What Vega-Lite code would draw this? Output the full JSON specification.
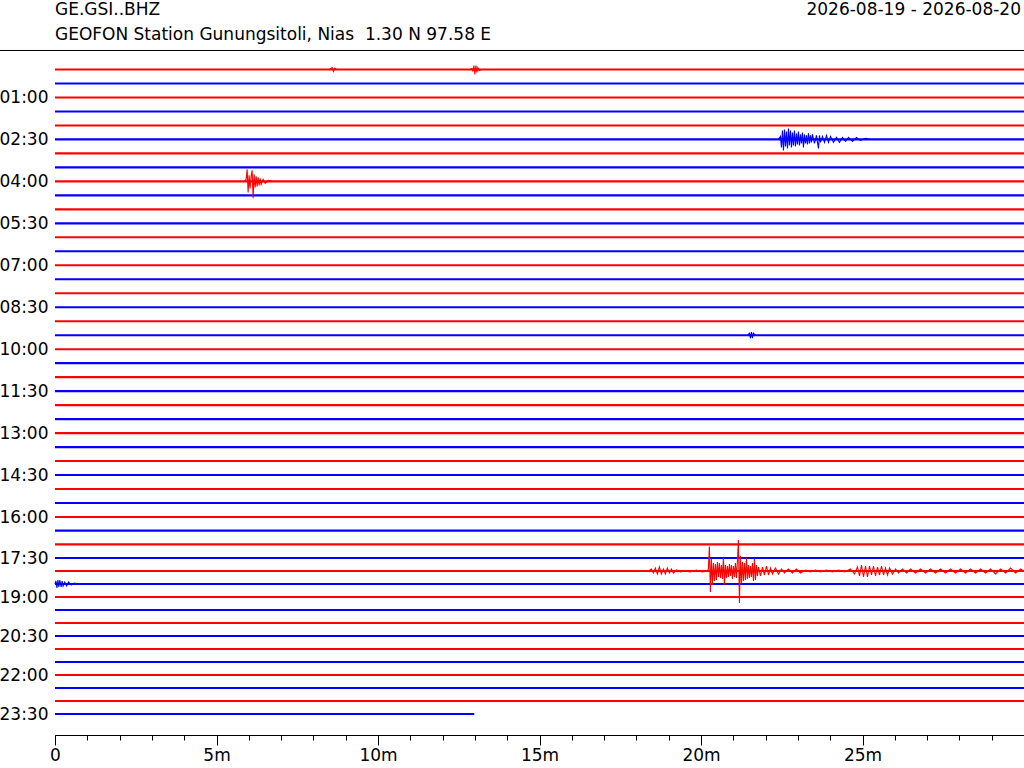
{
  "$schema": "https://vega.github.io/schema/vega-lite/v6.json",
  "description": "Helicorder (dayplot) of GE.GSI..BHZ, one trace per 30 minutes.",
  "width": 969,
  "height": 685,
  "autosize": {"type": "none"},
  "padding": {"left": 55, "top": 50, "right": 0, "bottom": 33},
  "config": {"view": {"stroke": null}, "font": "DejaVu Sans"},
  "resolve": {"axis": {"x": "independent", "y": "independent"}},
  "layer": [
    {
      "data": {
        "values": [
          {"r": 0, "end": 30}, {"r": 1, "end": 30}, {"r": 2, "end": 30}, {"r": 3, "end": 30},
          {"r": 4, "end": 30}, {"r": 5, "end": 30}, {"r": 6, "end": 30}, {"r": 7, "end": 30},
          {"r": 8, "end": 30}, {"r": 9, "end": 30}, {"r": 10, "end": 30}, {"r": 11, "end": 30},
          {"r": 12, "end": 30}, {"r": 13, "end": 30}, {"r": 14, "end": 30}, {"r": 15, "end": 30},
          {"r": 16, "end": 30}, {"r": 17, "end": 30}, {"r": 18, "end": 30}, {"r": 19, "end": 30},
          {"r": 20, "end": 30}, {"r": 21, "end": 30}, {"r": 22, "end": 30}, {"r": 23, "end": 30},
          {"r": 24, "end": 30}, {"r": 25, "end": 30}, {"r": 26, "end": 30}, {"r": 27, "end": 30},
          {"r": 28, "end": 30}, {"r": 29, "end": 30}, {"r": 30, "end": 30}, {"r": 31, "end": 30},
          {"r": 32, "end": 30}, {"r": 33, "end": 30}, {"r": 34, "end": 30}, {"r": 35, "end": 30},
          {"r": 36, "end": 30}, {"r": 37, "end": 30}, {"r": 38, "end": 30}, {"r": 39, "end": 30},
          {"r": 40, "end": 30}, {"r": 41, "end": 30}, {"r": 42, "end": 30}, {"r": 43, "end": 30},
          {"r": 44, "end": 30}, {"r": 45, "end": 30}, {"r": 46, "end": 30}, {"r": 47, "end": 12.98}
        ]
      },
      "transform": [
        {"calculate": "datum.r % 2 === 0 ? 'even' : 'odd'", "as": "p"},
        {"calculate": "0", "as": "start"}
      ],
      "mark": {"type": "rule", "strokeWidth": 2.1},
      "encoding": {
        "x": {
          "field": "start", "type": "quantitative",
          "scale": {"domain": [0, 30], "nice": false, "zero": false},
          "axis": {
            "orient": "bottom",
            "values": [0, 1, 2, 3, 4, 5, 6, 7, 8, 9, 10, 11, 12, 13, 14, 15, 16, 17, 18, 19, 20, 21, 22, 23, 24, 25, 26, 27, 28, 29],
            "labels": false,
            "tickSize": 5,
            "tickColor": "black",
            "domainColor": "black",
            "grid": false,
            "title": null
          }
        },
        "x2": {"field": "end"},
        "y": {
          "field": "r", "type": "quantitative",
          "scale": {"domain": [0, 32, 35, 47], "range": [19.5, 467, 508, 664], "nice": false, "zero": false},
          "axis": {
            "orient": "left",
            "values": [2, 5, 8, 11, 14, 17, 20, 23, 26, 29, 32, 35, 38, 41, 44, 47],
            "labelExpr": "(floor(datum.value / 2) < 10 ? '0' : '') + floor(datum.value / 2) + (datum.value % 2 ? ':30' : ':00')",
            "domain": false,
            "ticks": false,
            "grid": false,
            "labelFont": "DejaVu Sans",
            "labelFontSize": 17,
            "labelColor": "black",
            "labelPadding": 7,
            "title": null
          }
        },
        "color": {"field": "p", "type": "nominal", "scale": {"domain": ["even", "odd"], "range": ["#ff0000", "#0000ff"]}, "legend": null}
      }
    },
    {
      "data": {
        "values": [
          {"r": 0, "t": 8.5, "y": 0}, {"r": 0, "t": 8.58, "y": -0.14}, {"r": 0, "t": 8.62, "y": 0.14}, {"r": 0, "t": 8.66, "y": -0.1}, {"r": 0, "t": 8.72, "y": 0},
          {"r": 0, "t": 12.85, "y": 0}, {"r": 0, "t": 12.91, "y": -0.071}, {"r": 0, "t": 12.94, "y": 0.143}, {"r": 0, "t": 12.97, "y": -0.286},
          {"r": 0, "t": 13.0, "y": 0.357}, {"r": 0, "t": 13.03, "y": -0.286}, {"r": 0, "t": 13.06, "y": 0.214}, {"r": 0, "t": 13.09, "y": -0.143},
          {"r": 0, "t": 13.13, "y": 0.071}, {"r": 0, "t": 13.2, "y": 0},

          {"r": 5, "t": 22.398, "y": 5}, {"r": 5, "t": 22.46, "y": 4.786}, {"r": 5, "t": 22.491, "y": 5.571}, {"r": 5, "t": 22.522, "y": 4.357},
          {"r": 5, "t": 22.553, "y": 5.786}, {"r": 5, "t": 22.584, "y": 4.286}, {"r": 5, "t": 22.615, "y": 5.5}, {"r": 5, "t": 22.646, "y": 4.429},
          {"r": 5, "t": 22.677, "y": 5.643}, {"r": 5, "t": 22.708, "y": 4.214}, {"r": 5, "t": 22.739, "y": 5.429}, {"r": 5, "t": 22.77, "y": 4.357},
          {"r": 5, "t": 22.801, "y": 5.571}, {"r": 5, "t": 22.831, "y": 4.5}, {"r": 5, "t": 22.862, "y": 5.429}, {"r": 5, "t": 22.893, "y": 4.357},
          {"r": 5, "t": 22.924, "y": 5.5}, {"r": 5, "t": 22.955, "y": 4.571}, {"r": 5, "t": 22.986, "y": 5.357}, {"r": 5, "t": 23.017, "y": 4.429},
          {"r": 5, "t": 23.048, "y": 5.429}, {"r": 5, "t": 23.079, "y": 4.643}, {"r": 5, "t": 23.11, "y": 5.286}, {"r": 5, "t": 23.141, "y": 4.5},
          {"r": 5, "t": 23.172, "y": 5.571}, {"r": 5, "t": 23.203, "y": 4.643}, {"r": 5, "t": 23.234, "y": 5.286}, {"r": 5, "t": 23.265, "y": 4.714},
          {"r": 5, "t": 23.296, "y": 5.357}, {"r": 5, "t": 23.327, "y": 4.571}, {"r": 5, "t": 23.358, "y": 5.286}, {"r": 5, "t": 23.389, "y": 4.714},
          {"r": 5, "t": 23.42, "y": 5.214}, {"r": 5, "t": 23.451, "y": 4.643}, {"r": 5, "t": 23.513, "y": 5.286}, {"r": 5, "t": 23.575, "y": 4.714},
          {"r": 5, "t": 23.606, "y": 5.214}, {"r": 5, "t": 23.637, "y": 5.643}, {"r": 5, "t": 23.668, "y": 4.714}, {"r": 5, "t": 23.699, "y": 5.214},
          {"r": 5, "t": 23.761, "y": 4.786}, {"r": 5, "t": 23.823, "y": 5.214}, {"r": 5, "t": 23.885, "y": 4.714}, {"r": 5, "t": 23.947, "y": 5.214},
          {"r": 5, "t": 24.009, "y": 4.786}, {"r": 5, "t": 24.102, "y": 5.214}, {"r": 5, "t": 24.195, "y": 4.857}, {"r": 5, "t": 24.287, "y": 5.214},
          {"r": 5, "t": 24.38, "y": 4.857}, {"r": 5, "t": 24.473, "y": 5.143}, {"r": 5, "t": 24.566, "y": 4.857}, {"r": 5, "t": 24.69, "y": 5.143},
          {"r": 5, "t": 24.814, "y": 4.857}, {"r": 5, "t": 24.938, "y": 5.071}, {"r": 5, "t": 25.093, "y": 4.929}, {"r": 5, "t": 25.248, "y": 5},

          {"r": 8, "t": 5.855, "y": 8}, {"r": 8, "t": 5.917, "y": 7.857}, {"r": 8, "t": 5.948, "y": 7.143}, {"r": 8, "t": 5.979, "y": 8.786},
          {"r": 8, "t": 6.01, "y": 7.571}, {"r": 8, "t": 6.041, "y": 8.5}, {"r": 8, "t": 6.072, "y": 7.643}, {"r": 8, "t": 6.103, "y": 7.214},
          {"r": 8, "t": 6.134, "y": 9.214}, {"r": 8, "t": 6.165, "y": 7.5}, {"r": 8, "t": 6.196, "y": 8.429}, {"r": 8, "t": 6.227, "y": 7.643},
          {"r": 8, "t": 6.258, "y": 8.357}, {"r": 8, "t": 6.289, "y": 7.714}, {"r": 8, "t": 6.32, "y": 8.286}, {"r": 8, "t": 6.351, "y": 7.786},
          {"r": 8, "t": 6.382, "y": 8.214}, {"r": 8, "t": 6.444, "y": 7.857}, {"r": 8, "t": 6.506, "y": 8.143}, {"r": 8, "t": 6.598, "y": 7.929},
          {"r": 8, "t": 6.722, "y": 8},

          {"r": 19, "t": 21.45, "y": 19}, {"r": 19, "t": 21.5, "y": 18.857}, {"r": 19, "t": 21.53, "y": 19.214}, {"r": 19, "t": 21.56, "y": 18.786},
          {"r": 19, "t": 21.59, "y": 19.214}, {"r": 19, "t": 21.62, "y": 18.857}, {"r": 19, "t": 21.68, "y": 19},

          {"r": 36, "t": 18.3, "y": 36}, {"r": 36, "t": 18.371, "y": 36}, {"r": 36, "t": 18.464, "y": 35.846}, {"r": 36, "t": 18.526, "y": 36.154},
          {"r": 36, "t": 18.587, "y": 35.769}, {"r": 36, "t": 18.649, "y": 36.231}, {"r": 36, "t": 18.711, "y": 35.692}, {"r": 36, "t": 18.773, "y": 36.231},
          {"r": 36, "t": 18.835, "y": 35.846}, {"r": 36, "t": 18.897, "y": 36.231}, {"r": 36, "t": 18.959, "y": 35.769}, {"r": 36, "t": 19.021, "y": 36.154},
          {"r": 36, "t": 19.083, "y": 35.846}, {"r": 36, "t": 19.145, "y": 36.154}, {"r": 36, "t": 19.238, "y": 35.923}, {"r": 36, "t": 19.362, "y": 36.077},
          {"r": 36, "t": 19.486, "y": 36}, {"r": 36, "t": 19.672, "y": 36.077}, {"r": 36, "t": 19.857, "y": 35.923}, {"r": 36, "t": 20.043, "y": 36.077},
          {"r": 36, "t": 20.198, "y": 36}, {"r": 36, "t": 20.229, "y": 35.846}, {"r": 36, "t": 20.26, "y": 34.154}, {"r": 36, "t": 20.291, "y": 37.615},
          {"r": 36, "t": 20.322, "y": 35.077}, {"r": 36, "t": 20.353, "y": 37.077}, {"r": 36, "t": 20.384, "y": 35.385}, {"r": 36, "t": 20.415, "y": 36.769},
          {"r": 36, "t": 20.446, "y": 35.462}, {"r": 36, "t": 20.477, "y": 36.692}, {"r": 36, "t": 20.508, "y": 35.308}, {"r": 36, "t": 20.539, "y": 36.462},
          {"r": 36, "t": 20.57, "y": 35.385}, {"r": 36, "t": 20.601, "y": 36.538}, {"r": 36, "t": 20.632, "y": 35.538}, {"r": 36, "t": 20.663, "y": 36.615},
          {"r": 36, "t": 20.694, "y": 35.0}, {"r": 36, "t": 20.725, "y": 37.077}, {"r": 36, "t": 20.756, "y": 35.538}, {"r": 36, "t": 20.787, "y": 36.538},
          {"r": 36, "t": 20.818, "y": 35.615}, {"r": 36, "t": 20.849, "y": 36.462}, {"r": 36, "t": 20.88, "y": 35.462}, {"r": 36, "t": 20.911, "y": 36.385},
          {"r": 36, "t": 20.942, "y": 35.538}, {"r": 36, "t": 20.973, "y": 36.615}, {"r": 36, "t": 21.004, "y": 35.615}, {"r": 36, "t": 21.035, "y": 36.462},
          {"r": 36, "t": 21.066, "y": 35.385}, {"r": 36, "t": 21.097, "y": 36.538}, {"r": 36, "t": 21.128, "y": 35.231}, {"r": 36, "t": 21.159, "y": 33.692},
          {"r": 36, "t": 21.19, "y": 38.462}, {"r": 36, "t": 21.221, "y": 34.846}, {"r": 36, "t": 21.252, "y": 36.923}, {"r": 36, "t": 21.283, "y": 35.308},
          {"r": 36, "t": 21.314, "y": 36.769}, {"r": 36, "t": 21.345, "y": 35.385}, {"r": 36, "t": 21.376, "y": 36.692}, {"r": 36, "t": 21.407, "y": 35.0},
          {"r": 36, "t": 21.438, "y": 36.615}, {"r": 36, "t": 21.469, "y": 35.538}, {"r": 36, "t": 21.5, "y": 36.538}, {"r": 36, "t": 21.531, "y": 35.615},
          {"r": 36, "t": 21.562, "y": 36.462}, {"r": 36, "t": 21.593, "y": 35.385}, {"r": 36, "t": 21.624, "y": 36.769}, {"r": 36, "t": 21.655, "y": 35.077},
          {"r": 36, "t": 21.686, "y": 36.692}, {"r": 36, "t": 21.717, "y": 35.538}, {"r": 36, "t": 21.748, "y": 36.385}, {"r": 36, "t": 21.779, "y": 35.692},
          {"r": 36, "t": 21.841, "y": 36.385}, {"r": 36, "t": 21.903, "y": 35.692}, {"r": 36, "t": 21.965, "y": 36.308}, {"r": 36, "t": 22.027, "y": 35.615},
          {"r": 36, "t": 22.089, "y": 36.308}, {"r": 36, "t": 22.151, "y": 35.769}, {"r": 36, "t": 22.213, "y": 36.231}, {"r": 36, "t": 22.305, "y": 35.769},
          {"r": 36, "t": 22.398, "y": 36.231}, {"r": 36, "t": 22.491, "y": 35.846}, {"r": 36, "t": 22.584, "y": 36.154}, {"r": 36, "t": 22.708, "y": 35.846},
          {"r": 36, "t": 22.831, "y": 36.154}, {"r": 36, "t": 22.955, "y": 35.846}, {"r": 36, "t": 23.079, "y": 36.154}, {"r": 36, "t": 23.234, "y": 35.923},
          {"r": 36, "t": 23.389, "y": 36.077}, {"r": 36, "t": 23.544, "y": 35.923}, {"r": 36, "t": 23.699, "y": 36.077}, {"r": 36, "t": 23.885, "y": 35.923},
          {"r": 36, "t": 24.071, "y": 36.077}, {"r": 36, "t": 24.257, "y": 35.923}, {"r": 36, "t": 24.442, "y": 36.077}, {"r": 36, "t": 24.628, "y": 35.846},
          {"r": 36, "t": 24.752, "y": 36.231}, {"r": 36, "t": 24.845, "y": 35.692}, {"r": 36, "t": 24.907, "y": 36.385}, {"r": 36, "t": 24.969, "y": 35.538},
          {"r": 36, "t": 25.031, "y": 36.462}, {"r": 36, "t": 25.093, "y": 35.615}, {"r": 36, "t": 25.155, "y": 36.462}, {"r": 36, "t": 25.217, "y": 35.615},
          {"r": 36, "t": 25.279, "y": 36.308}, {"r": 36, "t": 25.341, "y": 35.615}, {"r": 36, "t": 25.403, "y": 36.385}, {"r": 36, "t": 25.465, "y": 35.692},
          {"r": 36, "t": 25.527, "y": 36.308}, {"r": 36, "t": 25.589, "y": 35.615}, {"r": 36, "t": 25.651, "y": 36.308}, {"r": 36, "t": 25.713, "y": 35.769},
          {"r": 36, "t": 25.775, "y": 36.308}, {"r": 36, "t": 25.837, "y": 35.769}, {"r": 36, "t": 25.929, "y": 36.231}, {"r": 36, "t": 26.022, "y": 35.846},
          {"r": 36, "t": 26.115, "y": 36.154}, {"r": 36, "t": 26.239, "y": 35.846}, {"r": 36, "t": 26.363, "y": 36.154}, {"r": 36, "t": 26.487, "y": 35.846},
          {"r": 36, "t": 26.642, "y": 36.154}, {"r": 36, "t": 26.797, "y": 35.846}, {"r": 36, "t": 26.952, "y": 36.154}, {"r": 36, "t": 27.107, "y": 35.846},
          {"r": 36, "t": 27.262, "y": 36.154}, {"r": 36, "t": 27.416, "y": 35.846}, {"r": 36, "t": 27.571, "y": 36.154}, {"r": 36, "t": 27.726, "y": 35.846},
          {"r": 36, "t": 27.881, "y": 36.154}, {"r": 36, "t": 28.036, "y": 35.846}, {"r": 36, "t": 28.191, "y": 36.154}, {"r": 36, "t": 28.346, "y": 35.846},
          {"r": 36, "t": 28.501, "y": 36.154}, {"r": 36, "t": 28.656, "y": 35.846}, {"r": 36, "t": 28.811, "y": 36.154}, {"r": 36, "t": 28.965, "y": 35.846},
          {"r": 36, "t": 29.12, "y": 36.231}, {"r": 36, "t": 29.275, "y": 35.846}, {"r": 36, "t": 29.43, "y": 36.154}, {"r": 36, "t": 29.585, "y": 35.769},
          {"r": 36, "t": 29.74, "y": 36.154}, {"r": 36, "t": 29.895, "y": 35.846}, {"r": 36, "t": 29.988, "y": 36},

          {"r": 37, "t": 0, "y": 37}, {"r": 37, "t": 0.03, "y": 36.769}, {"r": 37, "t": 0.06, "y": 37.308}, {"r": 37, "t": 0.09, "y": 36.692},
          {"r": 37, "t": 0.12, "y": 37.231}, {"r": 37, "t": 0.15, "y": 36.692}, {"r": 37, "t": 0.19, "y": 37.231}, {"r": 37, "t": 0.22, "y": 36.769},
          {"r": 37, "t": 0.25, "y": 37.154}, {"r": 37, "t": 0.3, "y": 36.846}, {"r": 37, "t": 0.36, "y": 37.154}, {"r": 37, "t": 0.42, "y": 36.846},
          {"r": 37, "t": 0.5, "y": 37.077}, {"r": 37, "t": 0.6, "y": 36.923}, {"r": 37, "t": 0.7, "y": 37}
        ]
      },
      "transform": [{"calculate": "datum.r % 2 === 0 ? 'even' : 'odd'", "as": "p"}],
      "mark": {"type": "line", "strokeWidth": 1.1},
      "encoding": {
        "x": {
          "field": "t", "type": "quantitative",
          "scale": {"domain": [0, 30], "nice": false, "zero": false},
          "axis": {
            "orient": "bottom",
            "values": [0, 5, 10, 15, 20, 25],
            "labelExpr": "datum.value === 0 ? '0' : datum.value + 'm'",
            "tickSize": 10,
            "tickColor": "black",
            "domain": false,
            "labelFont": "DejaVu Sans",
            "labelFontSize": 17,
            "labelColor": "black",
            "labelPadding": 2,
            "labelFlush": false,
            "labelOverlap": false,
            "grid": false,
            "title": null
          }
        },
        "y": {"field": "y", "type": "quantitative", "scale": {"domain": [0, 32, 35, 47], "range": [19.5, 467, 508, 664], "nice": false, "zero": false}, "axis": null},
        "detail": {"field": "r", "type": "nominal"},
        "order": {"field": "t", "type": "quantitative"},
        "color": {"field": "p", "type": "nominal", "scale": {"domain": ["even", "odd"], "range": ["#ff0000", "#0000ff"]}, "legend": null}
      }
    },
    {
      "data": {"values": [{"a": -1.75, "b": 30, "top": -1.36}]},
      "mark": {"type": "rule", "color": "black", "strokeWidth": 1},
      "encoding": {
        "x": {"field": "a", "type": "quantitative", "scale": {"domain": [0, 30], "nice": false, "zero": false}, "axis": null},
        "x2": {"field": "b"},
        "y": {"field": "top", "type": "quantitative", "scale": {"domain": [0, 32, 35, 47], "range": [19.5, 467, 508, 664], "nice": false, "zero": false}, "axis": null}
      }
    },
    {
      "data": {"values": [{"label": "GE.GSI..BHZ"}]},
      "mark": {"type": "text", "align": "left", "baseline": "middle", "font": "DejaVu Sans", "fontSize": 17, "color": "black"},
      "encoding": {
        "x": {"datum": 0, "type": "quantitative", "scale": {"domain": [0, 30], "nice": false, "zero": false}, "axis": null},
        "y": {"datum": -4.22, "type": "quantitative", "scale": {"domain": [0, 32, 35, 47], "range": [19.5, 467, 508, 664], "nice": false, "zero": false}, "axis": null},
        "text": {"field": "label", "type": "nominal"}
      }
    },
    {
      "data": {"values": [{"label": "GEOFON Station Gunungsitoli, Nias \u00a01.30 N 97.58 E"}]},
      "mark": {"type": "text", "align": "left", "baseline": "middle", "font": "DejaVu Sans", "fontSize": 17, "color": "black"},
      "encoding": {
        "x": {"datum": 0, "type": "quantitative", "scale": {"domain": [0, 30], "nice": false, "zero": false}, "axis": null},
        "y": {"datum": -2.45, "type": "quantitative", "scale": {"domain": [0, 32, 35, 47], "range": [19.5, 467, 508, 664], "nice": false, "zero": false}, "axis": null},
        "text": {"field": "label", "type": "nominal"}
      }
    },
    {
      "data": {"values": [{"label": "2026-08-19 - 2026-08-20"}]},
      "mark": {"type": "text", "align": "right", "baseline": "middle", "dx": -3, "font": "DejaVu Sans", "fontSize": 17, "color": "black"},
      "encoding": {
        "x": {"datum": 30, "type": "quantitative", "scale": {"domain": [0, 30], "nice": false, "zero": false}, "axis": null},
        "y": {"datum": -4.22, "type": "quantitative", "scale": {"domain": [0, 32, 35, 47], "range": [19.5, 467, 508, 664], "nice": false, "zero": false}, "axis": null},
        "text": {"field": "label", "type": "nominal"}
      }
    }
  ]
}
